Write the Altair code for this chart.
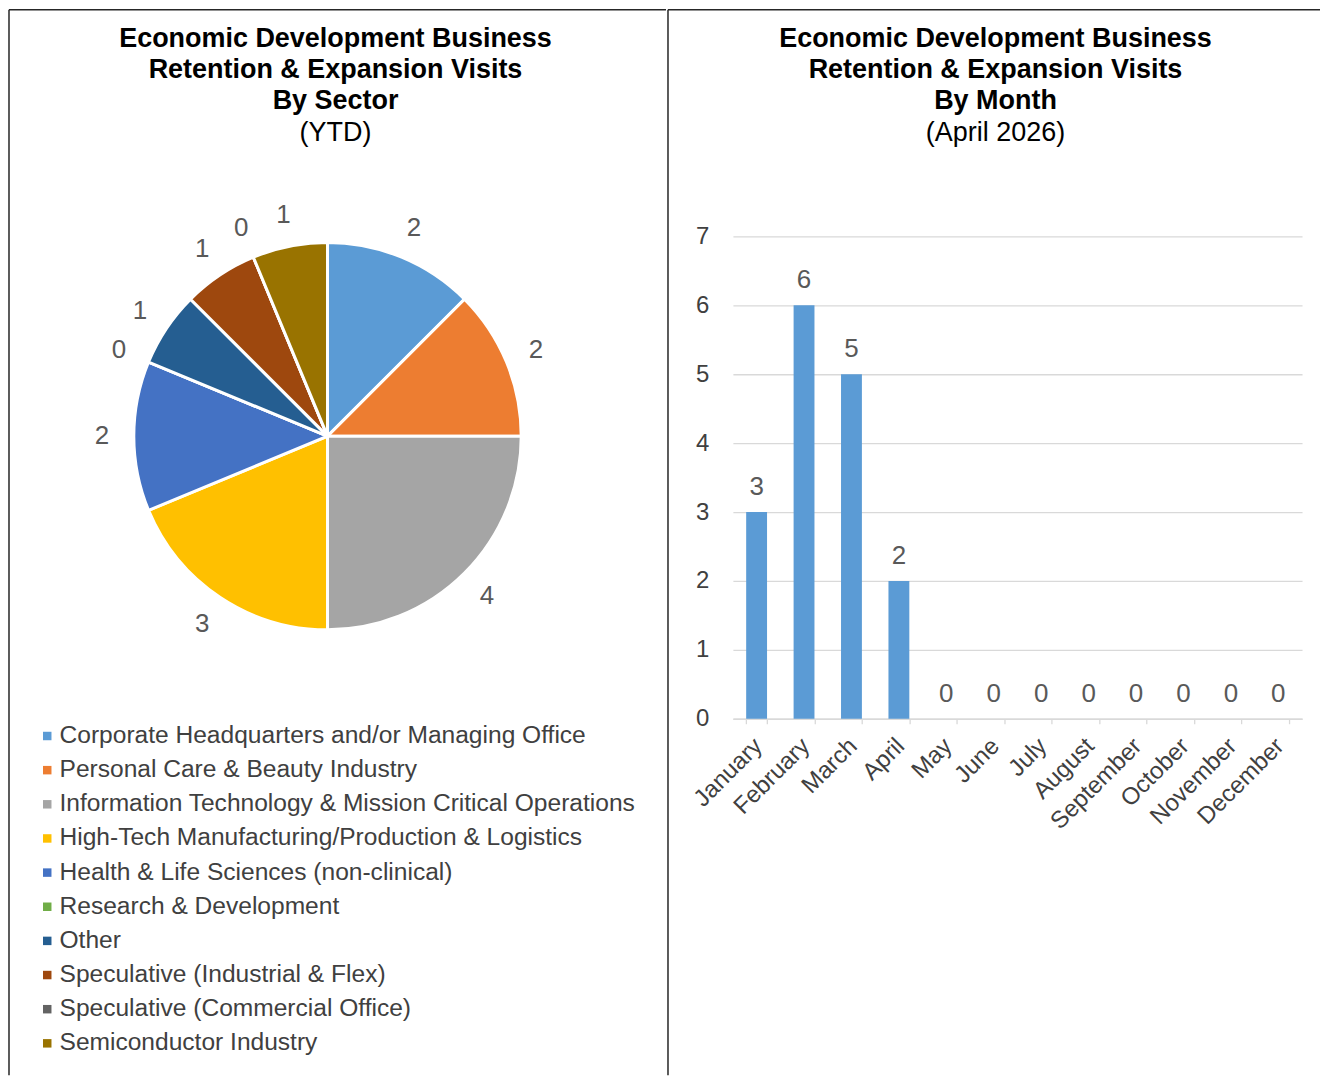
import altair as alt
import pandas as pd

# ---------------- data ----------------
sectors = [
    "Corporate Headquarters and/or Managing Office",
    "Personal Care & Beauty Industry",
    "Information Technology & Mission Critical Operations",
    "High-Tech Manufacturing/Production & Logistics",
    "Health & Life Sciences (non-clinical)",
    "Research & Development",
    "Other",
    "Speculative (Industrial & Flex)",
    "Speculative (Commercial Office)",
    "Semiconductor Industry",
]
sector_visits = [2, 2, 4, 3, 2, 0, 1, 1, 0, 1]
sector_colors = ["#5B9BD5", "#ED7D31", "#A5A5A5", "#FFC000", "#4472C4",
                 "#70AD47", "#255E91", "#9E480E", "#636363", "#997300"]

months = ["January", "February", "March", "April", "May", "June", "July",
          "August", "September", "October", "November", "December"]
month_visits = [3, 6, 5, 2, 0, 0, 0, 0, 0, 0, 0, 0]
y_ticks = [0, 1, 2, 3, 4, 5, 6, 7]

left_title = ["Economic Development Business", "Retention & Expansion Visits", "By Sector"]
left_subtitle = "(YTD)"
right_title = ["Economic Development Business", "Retention & Expansion Visits", "By Month"]
right_subtitle = "(April 2026)"

FONT = "Liberation Sans"
BORDER = "#262626"
LABEL = "#595959"

pie_df = pd.DataFrame({"sector": sectors, "visits": sector_visits,
                       "order": list(range(len(sectors)))})
bar_df = pd.DataFrame({"month": months, "visits": month_visits})
deco = alt.Data(values=[{"d": 0}])


def make_title(lines, sub, dx):
    return alt.TitleParams(
        text=lines, subtitle=sub, font=FONT, fontSize=27, fontWeight="bold",
        color="#000000", lineHeight=31, subtitleFont=FONT, subtitleFontSize=27,
        subtitleColor="#000000", subtitleLineHeight=31, subtitlePadding=5,
        offset=-138, anchor="middle", frame="group", dx=dx,
    )


# ---------------- left panel: pie ----------------
CX, CY = 319, 200
pie_base = alt.Chart(pie_df).encode(
    theta=alt.Theta("visits:Q", stack=True),
    order=alt.Order("order:Q"),
)
pie = pie_base.mark_arc(outerRadius=194, stroke="white", strokeWidth=3).encode(
    x=alt.value(CX), y=alt.value(CY),
    color=alt.Color(
        "sector:N",
        scale=alt.Scale(domain=sectors, range=sector_colors),
        legend=alt.Legend(
            orient="none", legendX=26, legendY=488, title=None,
            symbolType="square", symbolSize=72, symbolStrokeWidth=0,
            labelFont=FONT, labelFontSize=24.6, labelColor="#404040",
            labelLimit=1000, labelOffset=0, rowPadding=9.2, padding=0,
        ),
    ),
)
pie_labels = pie_base.mark_text(radius=226, fontSize=26, color=LABEL, font=FONT).encode(
    x=alt.value(CX), y=alt.value(CY), text="visits:Q",
)
left_top = alt.Chart(deco).mark_rule(color=BORDER, strokeWidth=1.5).encode(
    x=alt.value(0), x2=alt.value(658), y=alt.value(-227))
left_side = alt.Chart(deco).mark_rule(color=BORDER, strokeWidth=1.5).encode(
    x=alt.value(0), y=alt.value(-227), y2=alt.value(840))

left = alt.layer(left_top, left_side, pie, pie_labels).properties(
    width=658, height=483, title=make_title(left_title, left_subtitle, -2))

# ---------------- right panel: bars ----------------
xenc = alt.X(
    "month:N", sort=months,
    scale=alt.Scale(paddingInner=0.56, paddingOuter=0.28),
    axis=alt.Axis(title=None, labelAngle=-45, labelFontSize=24, labelColor="#404040",
                  labelFont=FONT, domainColor="#D9D9D9", domainWidth=1.3,
                  tickColor="#D9D9D9", tickWidth=1.3, tickSize=5, tickBand="extent",
                  grid=False, labelPadding=10, labelOffset=-7),
)
yenc = alt.Y(
    "visits:Q", scale=alt.Scale(domain=[0, 7], nice=False),
    axis=alt.Axis(title=None, values=y_ticks, ticks=False, domain=False,
                  labelPadding=24, labelFontSize=24, labelColor="#404040",
                  labelFont=FONT, gridColor="#D9D9D9", gridWidth=1.3),
)
bars = alt.Chart(bar_df).mark_bar(color="#5B9BD5").encode(x=xenc, y=yenc)
bar_labels = alt.Chart(bar_df).mark_text(dy=-25, fontSize=26, color=LABEL, font=FONT).encode(
    x=xenc, y=yenc, text="visits:Q")
right_top = alt.Chart(deco).mark_rule(color=BORDER, strokeWidth=1.5).encode(
    x=alt.value(-65), x2=alt.value(588), y=alt.value(-227))
right_side = alt.Chart(deco).mark_rule(color=BORDER, strokeWidth=1.5).encode(
    x=alt.value(-65), y=alt.value(-227), y2=alt.value(840))

right = alt.layer(right_top, right_side, bars, bar_labels).properties(
    width=570, height=483, title=make_title(right_title, right_subtitle, -22))

chart = (
    alt.hconcat(left, right, spacing=0, bounds="full")
    .properties(padding=0, background="white")
    .configure(font=FONT)
    .configure_view(strokeWidth=0)
)

chart.save("out.html", embed_options={"renderer": "svg", "actions": False})
